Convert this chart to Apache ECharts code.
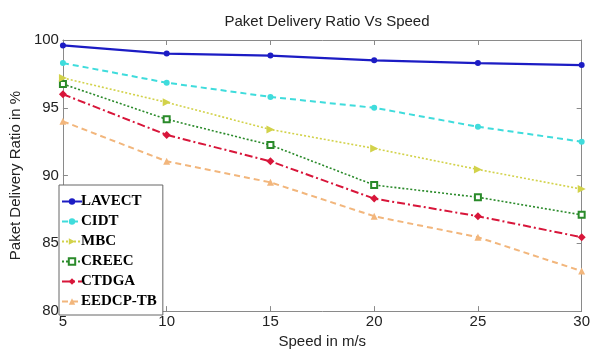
<!DOCTYPE html>
<html>
<head>
<meta charset="utf-8">
<script src="https://cdn.jsdelivr.net/npm/echarts@6/dist/echarts.min.js"></script>
<style>
  html, body { margin: 0; padding: 0; background: #fff; }
  #chart { width: 593px; height: 354px; }
</style>
</head>
<body>
<div id="chart"></div>
<script>
// speeds (m/s)
const speeds = [5, 10, 15, 20, 25, 30];

// packet delivery ratio (%) per protocol
const lavect = [99.6, 99.0, 98.85, 98.5, 98.3, 98.15];
const cidt = [98.3, 96.85, 95.8, 95.0, 93.6, 92.5];
const mbc = [97.2, 95.4, 93.4, 92.0, 90.45, 89.0];
const creec = [96.75, 94.15, 92.25, 89.3, 88.4, 87.1];
const ctdga = [96.0, 93.0, 91.05, 88.3, 87.0, 85.45];
const eedcp = [94.0, 91.05, 89.5, 87.0, 85.45, 82.95];

const names = ['LAVECT', 'CIDT', 'MBC', 'CREEC', 'CTDGA', 'EEDCP-TB'];
const values = [lavect, cidt, mbc, creec, ctdga, eedcp];

const styles = [
    { color: '#1c1cc4', type: 'solid', width: 2.2, symbol: 'circle', size: 6 },
    { color: '#3fdcdc', type: [6, 4], width: 2, symbol: 'circle', size: 6 },
    { color: '#d2d24a', type: [2, 2], width: 1.6, symbol: 'triangle', size: 8, rotate: -90 },
    { color: '#2a8a2a', type: [2, 2], width: 1.6, symbol: 'emptyRect', size: 6 },
    { color: '#d8163a', type: [8, 3, 2, 3], width: 2, symbol: 'diamond', size: 8 },
    { color: '#f2b67c', type: [6, 4], width: 2, symbol: 'triangle', size: 7 },
];

const series = names.map((name, i) => {
    const s = styles[i];
    return {
        name: name,
        type: 'line',
        data: speeds.map((x, j) => [x, values[i][j]]),
        symbol: s.symbol,
        symbolSize: s.size,
        symbolRotate: s.rotate || 0,
        showAllSymbol: true,
        itemStyle: { color: s.color, borderColor: s.color, borderWidth: s.symbol === 'emptyRect' ? 2 : 0 },
        lineStyle: { color: s.color, type: s.type, width: s.width },
        z: 10 - i,
    };
});

const axisLine = { show: true, lineStyle: { color: '#8a8a8a', width: 1 } };
const tickStyle = { show: true, inside: true, length: 5, lineStyle: { color: '#8a8a8a' } };
const labelStyle = { color: '#222', fontSize: 15, fontFamily: 'Liberation Sans, Arial, sans-serif' };

const chart = echarts.init(document.getElementById('chart'));
chart.setOption({
    backgroundColor: '#fff',
    animation: false,
    title: {
        text: 'Paket Delivery Ratio Vs Speed',
        left: 322,
        top: 9,
        textAlign: 'center',
        textStyle: { fontSize: 15, fontWeight: 'normal', color: '#222', fontFamily: 'Liberation Sans, Arial, sans-serif' },
    },
    grid: { left: 58, right: 7, top: 40, bottom: 38 },
    legend: {
        orient: 'vertical',
        left: 59,
        bottom: 39,
        data: names,
        backgroundColor: '#fff',
        borderColor: '#666',
        borderWidth: 1,
        padding: [9, 6, 6, 2],
        itemGap: 5,
        itemWidth: 20,
        itemHeight: 8,
        textStyle: { fontSize: 15, fontWeight: 'bold', color: '#000', fontFamily: 'Liberation Serif, Times New Roman, serif', padding: [0, 0, 0, -6] },
    },
    xAxis: [
        {
            type: 'value',
            min: 5, max: 30, interval: 5,
            name: 'Speed in m/s',
            nameLocation: 'middle',
            nameGap: 22,
            nameTextStyle: labelStyle,
            axisLine: axisLine,
            axisTick: tickStyle,
            axisLabel: Object.assign({ margin: 3 }, labelStyle),
            splitLine: { show: false },
        },
        {
            type: 'value', position: 'top',
            min: 5, max: 30, interval: 5,
            axisLine: axisLine,
            axisTick: tickStyle,
            axisLabel: { show: false },
            splitLine: { show: false },
        },
    ],
    yAxis: [
        {
            type: 'value',
            min: 80, max: 100, interval: 5,
            name: 'Paket Delivery Ratio in %',
            nameLocation: 'middle',
            nameGap: 31,
            nameTextStyle: labelStyle,
            axisLine: axisLine,
            axisTick: tickStyle,
            axisLabel: Object.assign({ margin: 4 }, labelStyle),
            splitLine: { show: false },
        },
        {
            type: 'value', position: 'right',
            min: 80, max: 100, interval: 5,
            axisLine: axisLine,
            axisTick: tickStyle,
            axisLabel: { show: false },
            splitLine: { show: false },
        },
    ],
    series: series,
});
</script>
</body>
</html>
